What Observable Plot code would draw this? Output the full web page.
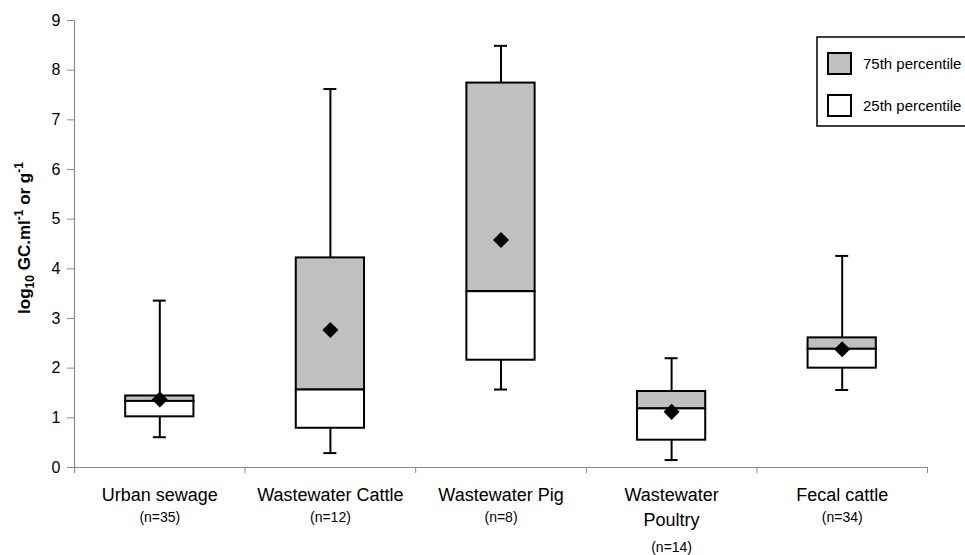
<!DOCTYPE html>
<html>
<head>
<meta charset="utf-8">
<script src="https://cdn.jsdelivr.net/npm/d3@7"></script>
<script src="https://cdn.jsdelivr.net/npm/@observablehq/plot@0.6"></script>
<style>
html, body { margin: 0; padding: 0; background: #fff; overflow: hidden; }
#chart { position: relative; width: 965px; height: 555px; }
</style>
</head>
<body>
<div id="chart"></div>
<script>
// ---- data ----
const categories  = ["Urban sewage", "Wastewater Cattle", "Wastewater Pig", "Wastewater\nPoultry", "Fecal cattle"];
const nLabels     = ["(n=35)", "(n=12)", "(n=8)", "(n=14)", "(n=34)"];
const whiskerLow  = [0.61, 0.29, 1.57, 0.15, 1.56];
const q25         = [1.02, 0.79, 2.16, 0.55, 2.00];
const median      = [1.33, 1.56, 3.54, 1.18, 2.38];
const q75         = [1.44, 4.22, 7.74, 1.53, 2.61];
const whiskerHigh = [3.36, 7.62, 8.49, 2.20, 4.26];
const mean        = [1.37, 2.77, 4.58, 1.12, 2.38];
const yTicks      = [0, 1, 2, 3, 4, 5, 6, 7, 8, 9];
const legendLabels = ["75th percentile", "25th percentile"];
const legendFills  = ["#c0c0c0", "#ffffff"];

// table built from the arrays
const rows = categories.map((c, i) => ({
  i, c, n: nLabels[i], lines: c.split("\n").length,
  lo: whiskerLow[i], q1: q25[i], med: median[i], q3: q75[i], hi: whiskerHigh[i], mean: mean[i]
}));
const xBounds = d3.range(categories.length + 1);
const cx = d => d.i + 0.5;
const boxHalf = 0.2, capHalf = 0.038;

const font = "'Liberation Sans', Arial, Helvetica, sans-serif";

const chart = Plot.plot({
  width: 965, height: 555,
  marginLeft: 74, marginRight: 38, marginTop: 20, marginBottom: 88,
  style: { fontFamily: font, background: "white", color: "black", overflow: "visible" },
  x: { domain: [0, categories.length] },
  y: { domain: [0, 9] },
  marks: [
    Plot.ruleY([0], { x1: 0, x2: categories.length, stroke: "#8a8a8a", strokeWidth: 1.2 }),
    Plot.ruleX([0], { y1: 0, y2: 9, stroke: "#8a8a8a", strokeWidth: 1.2 }),
    Plot.axisY({ ticks: yTicks, tickSize: 7, tickPadding: 7, fontSize: 16, stroke: "#8a8a8a", label: null, tickFormat: d => d }),
    Plot.axisX({ ticks: xBounds, tickSize: 6, tickFormat: () => "", stroke: "#8a8a8a", label: null }),
    // whiskers
    Plot.ruleX(rows, { x: cx, y1: "q3", y2: "hi", stroke: "black", strokeWidth: 2 }),
    Plot.ruleX(rows, { x: cx, y1: "lo", y2: "q1", stroke: "black", strokeWidth: 2 }),
    Plot.ruleY(rows, { y: "hi", x1: d => cx(d) - capHalf, x2: d => cx(d) + capHalf, stroke: "black", strokeWidth: 2 }),
    Plot.ruleY(rows, { y: "lo", x1: d => cx(d) - capHalf, x2: d => cx(d) + capHalf, stroke: "black", strokeWidth: 2 }),
    // boxes
    Plot.rect(rows, { x1: d => cx(d) - boxHalf, x2: d => cx(d) + boxHalf, y1: "med", y2: "q3", fill: legendFills[0], stroke: "black", strokeWidth: 2 }),
    Plot.rect(rows, { x1: d => cx(d) - boxHalf, x2: d => cx(d) + boxHalf, y1: "q1", y2: "med", fill: legendFills[1], stroke: "black", strokeWidth: 2 }),
    // means (square rotated 45° = diamond)
    Plot.dot(rows, { x: cx, y: "mean", symbol: "square", rotate: 45, r: 6.4, fill: "black", stroke: "none" }),
    // category labels
    Plot.text(rows, { x: cx, text: "c", frameAnchor: "bottom", lineAnchor: "top", dy: 16, fontSize: 18, lineHeight: 1.39, fill: "black" }),
    Plot.text(rows, { filter: d => d.lines === 1, x: cx, text: "n", frameAnchor: "bottom", lineAnchor: "middle", dy: 50, fontSize: 14, fill: "black" }),
    Plot.text(rows, { filter: d => d.lines === 2, x: cx, text: "n", frameAnchor: "bottom", lineAnchor: "middle", dy: 80, fontSize: 14, fill: "black" })
  ]
});

document.getElementById("chart").appendChild(chart);

const svg = d3.select(chart);

// y-axis title with sub/superscripts
const title = svg.append("text")
  .attr("transform", "translate(30,238) rotate(-90)")
  .attr("text-anchor", "middle")
  .attr("font-family", font)
  .attr("font-weight", "bold")
  .attr("font-size", 17)
  .attr("fill", "black");
title.append("tspan").text("log");
title.append("tspan").attr("font-size", 12).attr("dy", 4).text("10");
title.append("tspan").attr("dy", -4).text(" GC.ml");
title.append("tspan").attr("font-size", 12).attr("dy", -7).text("-1");
title.append("tspan").attr("dy", 7).text(" or g");
title.append("tspan").attr("font-size", 12).attr("dy", -7).text("-1");

// legend
const lg = svg.append("g").attr("font-family", font).attr("text-anchor", "start");
lg.append("rect").attr("x", 817).attr("y", 37).attr("width", 200).attr("height", 89)
  .attr("fill", "white").attr("stroke", "black").attr("stroke-width", 1.5);
legendLabels.forEach((lab, k) => {
  const y0 = 53 + k * 42;
  lg.append("rect").attr("x", 828).attr("y", y0).attr("width", 23).attr("height", 21)
    .attr("fill", legendFills[k]).attr("stroke", "black").attr("stroke-width", 2);
  lg.append("text").attr("x", 863).attr("y", y0 + 10.5).attr("dy", "0.35em")
    .attr("text-anchor", "start").attr("font-size", 15).attr("fill", "black").text(lab);
});
</script>
</body>
</html>
